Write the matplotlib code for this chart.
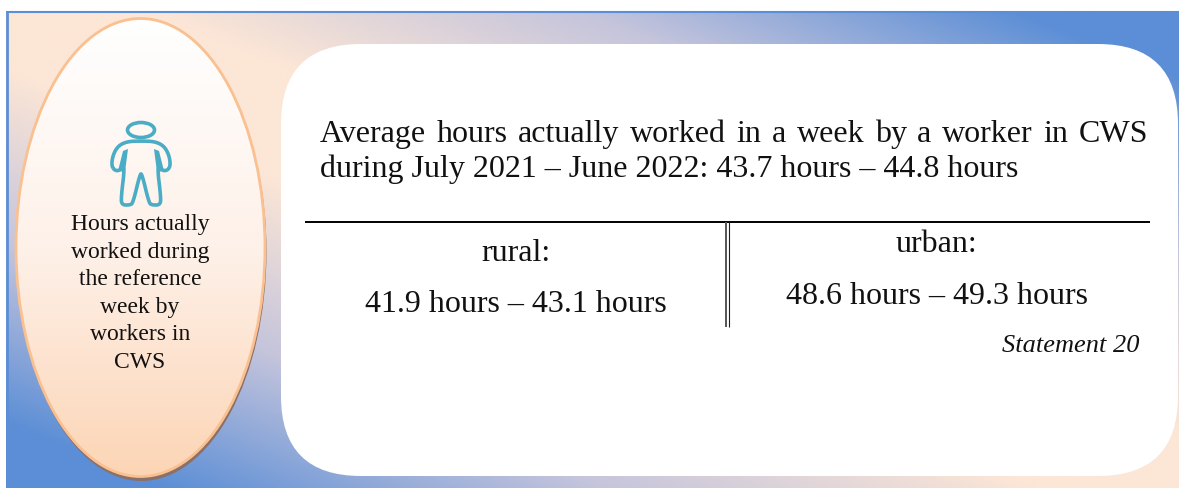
import numpy as np
import matplotlib
matplotlib.use('Agg')
import matplotlib.pyplot as plt
from matplotlib.colors import LinearSegmentedColormap
from matplotlib.patches import Ellipse, FancyBboxPatch, PathPatch, Polygon
from matplotlib.path import Path

W, H = 1179, 489

headline_lines = ["Average hours actually worked in a week by a worker in CWS",
                  "during July 2021 \u2013 June 2022: 43.7 hours \u2013 44.8 hours"]
side_lines = ["Hours actually", "worked during", "the reference", "week by", "workers in", "CWS"]
rural_label = "rural:"
rural_range = "41.9 hours \u2013 43.1 hours"
urban_label = "urban:"
urban_range = "48.6 hours \u2013 49.3 hours"
statement = "Statement 20"

BLUE = '#5B8ED6'
PEACH = '#FCE6D6'
TEAL = '#4BACC6'
INK = '#111111'

plt.rcParams['font.family'] = ['Liberation Serif', 'DejaVu Serif']


def smooth_closed(points, rounds=2):
    # Chaikin corner cutting, keeps the icon outline round
    pts = np.array(points, dtype=float)
    for _ in range(rounds):
        nxt = np.roll(pts, -1, axis=0)
        pts = np.column_stack([0.75 * pts + 0.25 * nxt, 0.25 * pts + 0.75 * nxt]).reshape(-1, 2)
    return np.vstack([pts, pts[0]])


def justified_text(ax, line, left, right, base, size):
    # The first headline line is stretched to the full width in the source
    renderer = ax.figure.canvas.get_renderer()
    words = line.split(' ')
    items = [ax.text(left, base, w, fontsize=size, ha='left', va='baseline', color=INK, zorder=7)
             for w in words]
    widths = [it.get_window_extent(renderer).width for it in items]
    gap = (right - left - sum(widths)) / (len(words) - 1)
    x = left
    for it, wid in zip(items, widths):
        it.set_x(x)
        x += wid + gap


fig = plt.figure(figsize=(W / 100, H / 100), dpi=100, facecolor='white')
ax = fig.add_axes([0, 0, 1, 1])
ax.axis('off')

# Background panel, blue in two opposite corners and peach in the other two
x0, y0 = 6, 11
xx, yy = np.meshgrid(np.linspace(0, 1, 300), np.linspace(0, 1, 200))
t = np.clip((np.abs(xx - yy) - 0.12) / 0.75, 0, 1)
bg_cmap = LinearSegmentedColormap.from_list('bg', [PEACH, '#C4C4DC', BLUE])
ax.imshow(t, extent=(x0, W, H, y0), cmap=bg_cmap, vmin=0, vmax=1, aspect='auto', zorder=1)
ax.plot([x0 + 1, x0 + 1], [y0, H], color=BLUE, lw=2, zorder=2, solid_capstyle='butt')
ax.plot([x0, W], [y0 + 0.5, y0 + 0.5], color=BLUE, lw=1.5, zorder=2, solid_capstyle='butt')

# White rounded card
ax.add_patch(FancyBboxPatch((361, 124), 737, 272,
                            boxstyle='round,pad=80,rounding_size=80',
                            fc='white', ec='none', zorder=3))

# Left oval with shadow and vertical gradient
ax.add_patch(Ellipse((141.5, 251.5), 250, 459, fc='#8A7068', ec='none', zorder=3))
oval = Ellipse((140.5, 247.5), 249, 458, fc='none', ec='#FAC090', lw=2, zorder=5)
ax.add_patch(oval)
oval_cmap = LinearSegmentedColormap.from_list('oval', ['#FFFFFF', '#FEF1E9', '#FCD5B5'])
grad = ax.imshow(np.linspace(0, 1, 256).reshape(-1, 1), extent=(15, 266, 477, 18),
                 cmap=oval_cmap, aspect='auto', zorder=4)
grad.set_clip_path(Ellipse((140.5, 247.5), 249, 458, transform=ax.transData))

# imshow resets the limits, so set them after it (one pixel offset lines up with the source)
ax.set_xlim(0, W)
ax.set_ylim(H - 1, -1)

# Person icon
ax.add_patch(Ellipse((141, 130), 27, 15, fc='none', ec=TEAL, lw=2.6, zorder=6))
body = [(114, 170), (111.5, 165), (113, 155), (118, 146), (127, 141.5), (141, 141), (155, 141.5),
        (164, 146), (169, 155), (170.5, 165), (168, 170), (163, 171), (157, 165), (161, 198),
        (160, 205), (152, 205), (149, 203), (142, 174), (140, 174), (133, 203), (130, 205),
        (122, 205), (121, 198), (125, 165), (119, 171)]
ax.add_patch(PathPatch(Path(smooth_closed(body)), fc='none', ec=TEAL, lw=2.6, joinstyle='round', zorder=6))
ax.add_patch(Polygon([(128, 149), (123, 151), (118, 171), (125, 172)], fc=TEAL, ec='none', zorder=6))
ax.add_patch(Polygon([(154, 149), (159, 151), (164, 171), (157, 172)], fc=TEAL, ec='none', zorder=6))

# Side text
for line, base in zip(side_lines, [229, 257, 284, 312, 339, 367]):
    ax.text(140, base, line, fontsize=17, ha='center', va='baseline', color=INK, zorder=7)

# Card text
justified_text(ax, headline_lines[0], 320, 1148, 141, 23)
ax.text(320, 176, headline_lines[1], fontsize=23, ha='left', va='baseline', color=INK, zorder=7)
ax.text(516, 260, rural_label, fontsize=23, ha='center', va='baseline', color=INK, zorder=7)
ax.text(515.5, 311, rural_range, fontsize=23, ha='center', va='baseline', color=INK, zorder=7)
ax.text(937, 251, urban_label, fontsize=23, ha='center', va='baseline', color=INK, zorder=7)
ax.text(937.5, 303, urban_range, fontsize=23, ha='center', va='baseline', color=INK, zorder=7)
ax.text(1140, 351, statement, fontsize=19, style='italic', ha='right', va='baseline',
        color=INK, zorder=7)

# Divider lines
ax.plot([305, 1150], [222, 222], color='black', lw=1.4, zorder=6, solid_capstyle='butt')
ax.plot([726, 726], [222, 327], color='#555555', lw=1.4, zorder=6, solid_capstyle='butt')
ax.plot([729, 729], [222, 327], color='#222222', lw=0.8, zorder=6, solid_capstyle='butt')

fig.savefig('out.png', dpi=100)
